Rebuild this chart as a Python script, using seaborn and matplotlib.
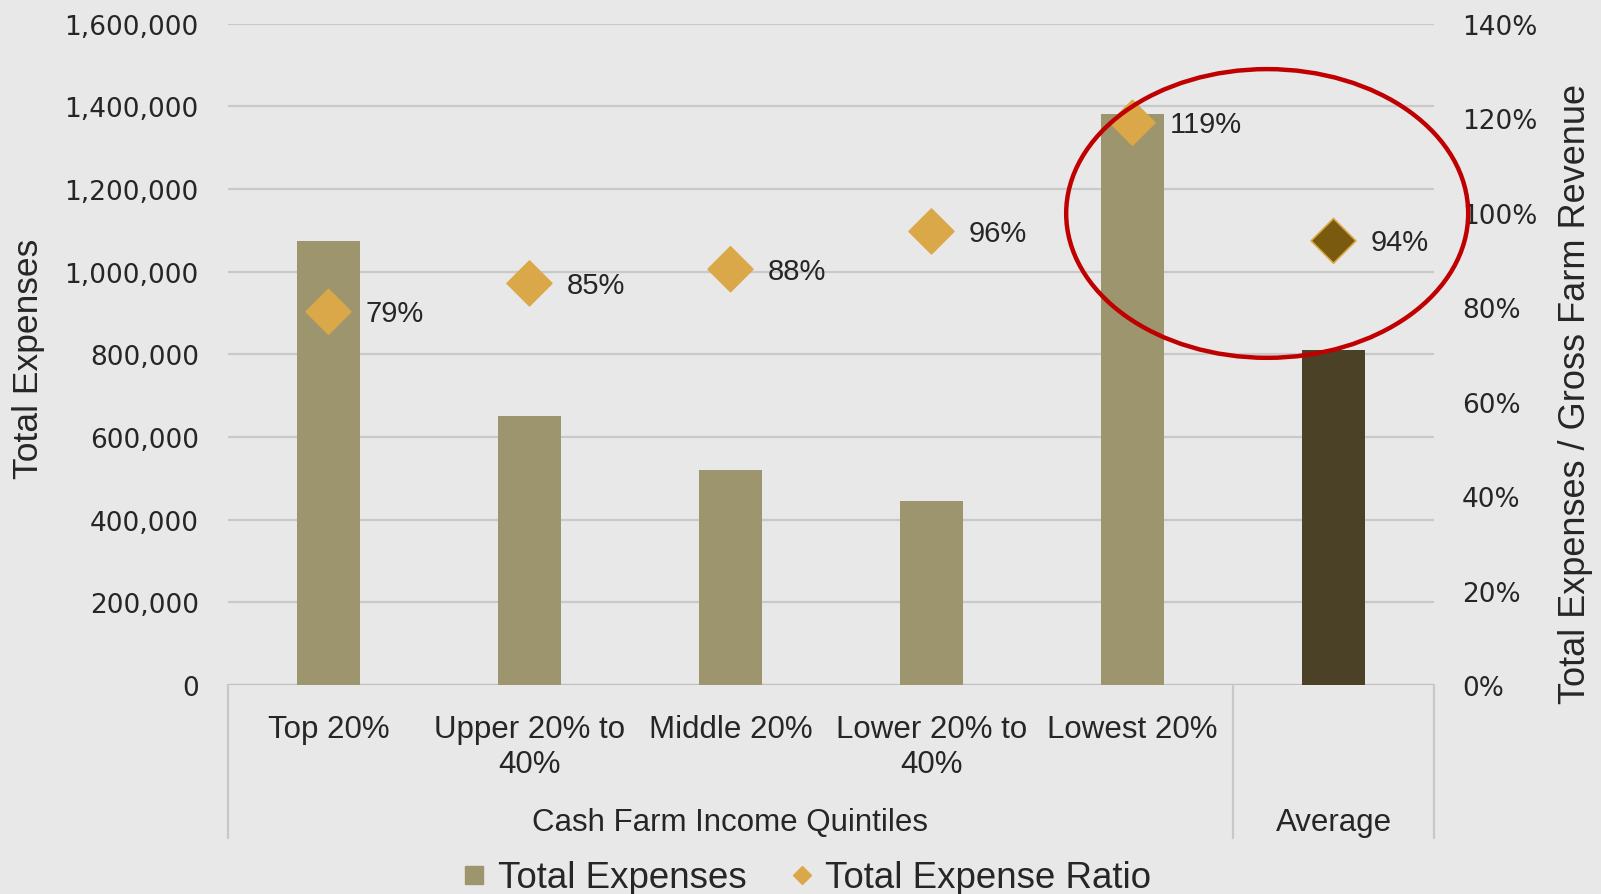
import numpy as np
import pandas as pd
import matplotlib
matplotlib.use("Agg")
import matplotlib.pyplot as plt
import matplotlib.transforms as mtransforms
from matplotlib.lines import Line2D
from matplotlib.patches import Ellipse
import seaborn as sns

# data
categories = ["Top 20%", "Upper 20% to\n40%", "Middle 20%", "Lower 20% to\n40%", "Lowest 20%", "Average"]
total_expenses = [1075000, 650000, 520000, 445000, 1380000, 810000]
expense_ratio = [79, 85, 88, 96, 119, 94]
ratio_labels = ["79%", "85%", "88%", "96%", "119%", "94%"]
group_labels = ["Cash Farm Income Quintiles", "Average"]
left_ticks = [0, 200000, 400000, 600000, 800000, 1000000, 1200000, 1400000, 1600000]
right_ticks = [0, 20, 40, 60, 80, 100, 120, 140]

bar_colors = ["#9C956E"] * 5 + ["#4B4126"]
diamond_colors = ["#DAA848"] * 5 + ["#7A5A0E"]
bg = "#E8E8E8"
txt = "#262626"

sns.set_style("white", {"axes.facecolor": bg, "figure.facecolor": bg})
plt.rcParams["font.family"] = ["Liberation Sans", "DejaVu Sans"]
plt.rcParams["text.color"] = txt

df = pd.DataFrame({"group": categories, "expenses": total_expenses, "ratio": expense_ratio})

fig = plt.figure(figsize=(16.01, 8.95), dpi=100)
ax = fig.add_axes([0.1424, 0.2335, 0.8957 - 0.1424, 0.9726 - 0.2335])

sns.barplot(data=df, x="group", y="expenses", hue="group", palette=bar_colors,
            width=0.315, saturation=1, legend=False, linewidth=0, ax=ax, zorder=2)

ax.set_ylim(0, 1600000)
ax.set_yticks(left_ticks)
ax.set_yticklabels([f"{t:,}" for t in left_ticks], fontfamily="DejaVu Sans", color=txt)
ax.tick_params(axis="y", labelsize=19, pad=21, length=0)
ax.yaxis.grid(True, color="#C9C9C9", lw=1.6)
ax.set_axisbelow(True)
ax.axhline(0, color="#BFBFBF", lw=2.2, zorder=1)
for s in ax.spines.values():
    s.set_visible(False)

ax.set_xticks(range(len(categories)))
ax.set_xticklabels(categories[:5] + [""], fontsize=22.5, color=txt)
ax.tick_params(axis="x", length=0, pad=21)
ax.set_xlabel("")
ax.set_ylabel("")

ax2 = ax.twinx()
sns.scatterplot(x=np.arange(len(categories)), y=expense_ratio, hue=df["group"], palette=diamond_colors,
                marker="D", s=520, edgecolor="#DAA848", linewidth=1.2, legend=False, ax=ax2, zorder=4)
ax2.set_ylim(0, 140)
ax2.set_yticks(right_ticks)
ax2.set_yticklabels([f"{t}%" for t in right_ticks], fontfamily="DejaVu Sans", color=txt)
ax2.tick_params(axis="y", labelsize=19, pad=20, length=0)
ax2.grid(False)
for s in ax2.spines.values():
    s.set_visible(False)

for i, (r, lbl) in enumerate(zip(expense_ratio, ratio_labels)):
    ax2.annotate(lbl, (i, r), xytext=(27, -1), textcoords="offset points",
                 va="center", ha="left", fontsize=21, color=txt)

ax.set_xlim(-0.5, 5.5)

# group labels and separators under the axis
trans = mtransforms.blended_transform_factory(ax.transData, ax.transAxes)
ax.text(2, -0.207, group_labels[0], transform=trans, ha="center", va="center", fontsize=22.5, color=txt)
ax.text(5, -0.207, group_labels[1], transform=trans, ha="center", va="center", fontsize=22.5, color=txt)
for x in [-0.5, 4.5, 5.5]:
    ax.plot([x, x], [0, -0.231], transform=trans, color="#C8C8C8", lw=1.6, clip_on=False)

# red highlight ellipse
ax2.add_patch(Ellipse((4.67, 99.8), width=2.0, height=61.1, fill=False,
                      edgecolor="#C00000", lw=3.2, clip_on=False, zorder=6))

fig.text(0.018, 0.599, "Total Expenses", rotation=90, ha="center", va="center", fontsize=25.5, color=txt)
fig.text(0.9838, 0.56, "Total Expenses / Gross Farm Revenue", rotation=90, ha="center", va="center",
         fontsize=26, color=txt)

handles = [Line2D([], [], marker="s", color=bar_colors[0], ls="", markersize=13),
           Line2D([], [], marker="D", color=diamond_colors[0], ls="", markersize=9)]
fig.legend(handles, ["Total Expenses", "Total Expense Ratio"], loc="center",
           bbox_to_anchor=(0.503, 0.018), ncol=2, frameon=False, fontsize=26.4,
           handletextpad=0.25, columnspacing=1.1, handlelength=0.8)

fig.savefig("out.png", dpi=100, facecolor=fig.get_facecolor())
